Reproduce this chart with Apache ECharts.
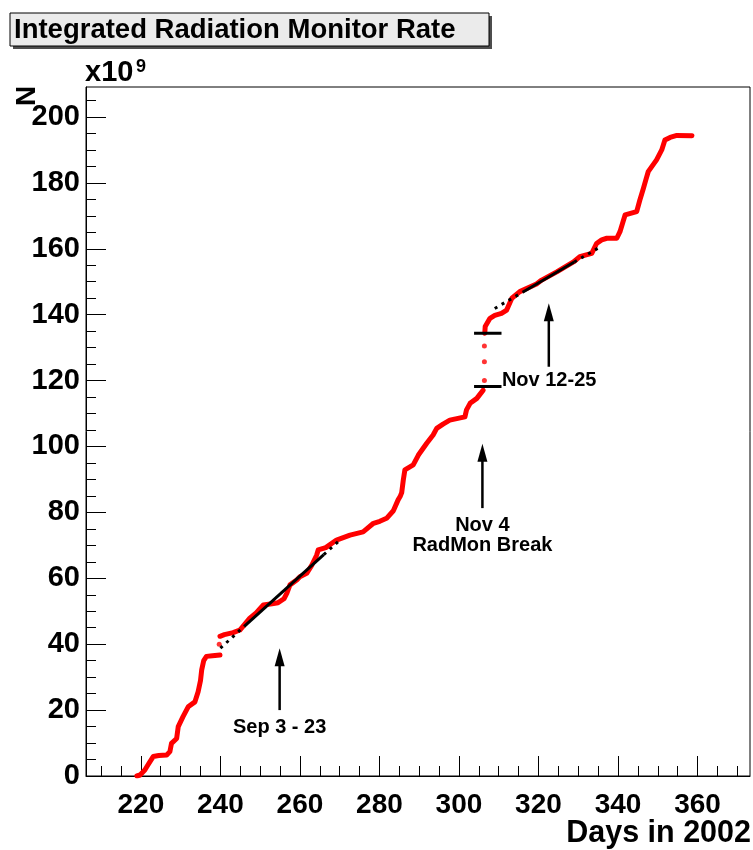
<!DOCTYPE html>
<html><head><meta charset="utf-8">
<script src="https://cdn.jsdelivr.net/npm/echarts@6/dist/echarts.min.js"></script>
<style>html,body{margin:0;padding:0;background:#fff}#c{width:753px;height:850px}</style>
</head><body><div id="c"></div>
<script>
// ---------- data ----------
const xTickLabels = [220, 240, 260, 280, 300, 320, 340, 360];
const xMinorTicks = [210, 215, 225, 230, 235, 245, 250, 255, 265, 270, 275, 285, 290, 295, 305, 310, 315, 325, 330, 335, 345, 350, 355, 365, 370];
const yTickLabels = [0, 20, 40, 60, 80, 100, 120, 140, 160, 180, 200];
const yMinorTicks = [5, 10, 15, 25, 30, 35, 45, 50, 55, 65, 70, 75, 85, 90, 95, 105, 110, 115, 125, 130, 135, 145, 150, 155, 165, 170, 175, 185, 190, 195, 205];

// integrated rate (x10^9), three continuous stretches
const seg1Days = [219.0, 219.8, 221.0, 222.0, 223.1, 224.5, 226.5, 227.3, 227.7, 229.0, 229.4, 230.6, 231.9, 233.6, 234.4, 235.0, 235.3, 235.8, 236.5, 238.0, 239.9];
const seg1Vals = [0.0, 0.3, 1.8, 3.8, 5.9, 6.2, 6.4, 7.4, 9.9, 11.4, 15.0, 18.0, 21.0, 22.5, 25.6, 29.0, 32.2, 35.0, 36.3, 36.5, 36.7];
const seg2Days = [239.9, 241.0, 243.2, 244.9, 247.4, 249.0, 250.8, 253.0, 254.5, 256.0, 256.7, 257.5, 259.2, 260.0, 261.7, 263.0, 264.2, 264.6, 266.5, 269.2, 272.6, 275.9, 278.5, 280.1, 281.8, 283.5, 284.7, 285.2, 285.6, 286.0, 286.4, 288.5, 289.8, 291.9, 293.5, 294.4, 296.0, 297.7, 301.5, 301.9, 302.8, 304.5, 306.1];
const seg2Vals = [42.4, 42.9, 43.5, 44.3, 47.9, 49.5, 51.9, 52.3, 52.6, 53.8, 55.4, 58.0, 59.5, 60.5, 61.5, 64.0, 67.0, 68.6, 69.3, 71.6, 73.1, 74.1, 76.7, 77.3, 78.2, 80.5, 83.8, 84.8, 86.0, 89.8, 92.9, 94.4, 97.4, 101.0, 103.5, 105.5, 106.8, 108.0, 109.0, 111.1, 113.1, 114.6, 117.1];
const seg3Days = [306.5, 306.6, 307.8, 309.0, 310.7, 312.0, 313.3, 315.3, 319.5, 320.8, 324.6, 328.8, 330.4, 333.4, 334.6, 335.9, 337.2, 339.7, 340.5, 341.8, 344.7, 345.5, 346.4, 347.0, 347.6, 349.7, 351.0, 351.8, 353.1, 354.8, 358.6];
const seg3Vals = [134.4, 136.4, 138.9, 139.8, 140.4, 141.4, 145.0, 147.0, 149.3, 150.5, 153.0, 156.0, 157.6, 158.6, 161.6, 162.7, 163.2, 163.2, 165.2, 170.3, 171.3, 174.8, 178.4, 180.9, 183.4, 187.0, 190.0, 193.0, 193.8, 194.4, 194.3];
const isoDays = [239.7, 306.4, 306.4, 306.4];
const isoVals = [40.0, 120.0, 125.7, 130.5];

// linear fits: [dotted start, solid start, solid end, dotted end]
const fit1Days = [240, 246, 266, 270];
const fit1Vals = [38.8, 45.4, 67.2, 71.5];
const fit2Days = [309, 316, 329, 335];
const fit2Vals = [141.9, 146.8, 156.0, 160.2];

// RadMon break level markers
const barFrom = 303.8, barTo = 310.7;
const barLevels = [134.4, 118.2];

// arrows: x, tail y, tip y
const arrowX = [254.9, 305.9, 322.6];
const arrowTail = [20.0, 81.3, 124.2];
const arrowTip = [38.8, 100.8, 143.5];

// annotation texts
const noteText = ['Sep 3 - 23', 'Nov 4', 'RadMon Break', 'Nov 12-25'];
const noteX = [254.9, 305.9, 305.9, 310.8];
const noteY = [14.6, 75.9, 70.1, 120.0];
const noteAlign = ['center', 'center', 'center', 'left'];

// ---------- chart ----------
const FONT = '"Liberation Sans", Arial, Helvetica, sans-serif';
const xMin = 206.2, xMax = 373.2, yMin = 0, yMax = 209.1;
const zip = (a, b) => a.map((v, i) => [v, b[i]]);

const chart = echarts.init(document.getElementById('c'), null, {renderer: 'canvas'});

const redLine = (d, v) => ({
  type: 'line', data: zip(d, v), showSymbol: false, symbol: 'none',
  lineStyle: {color: '#ff0000', width: 5, cap: 'round', join: 'round'},
  z: 2, animation: false, silent: true
});
const fitPart = (d, v, dashed) => ({
  type: 'line', data: zip(d, v), showSymbol: false, symbol: 'none',
  lineStyle: {color: '#000', width: 3, type: dashed ? [3, 5] : 'solid'},
  z: 4, animation: false, silent: true
});

const series = [
  redLine(seg1Days, seg1Vals),
  redLine(seg2Days, seg2Vals),
  redLine(seg3Days, seg3Vals),
  {type: 'scatter', data: zip(isoDays, isoVals), symbolSize: 5,
   itemStyle: {color: '#ff0000'}, z: 2, animation: false, silent: true},
  fitPart(fit1Days.slice(0, 2), fit1Vals.slice(0, 2), true),
  fitPart(fit1Days.slice(1, 3), fit1Vals.slice(1, 3), false),
  fitPart(fit1Days.slice(2, 4), fit1Vals.slice(2, 4), true),
  fitPart(fit2Days.slice(0, 2), fit2Vals.slice(0, 2), true),
  fitPart(fit2Days.slice(1, 3), fit2Vals.slice(1, 3), false),
  fitPart(fit2Days.slice(2, 4), fit2Vals.slice(2, 4), true),
];
barLevels.forEach(l => series.push({
  type: 'line', data: [[barFrom, l], [barTo, l]], showSymbol: false, symbol: 'none',
  lineStyle: {color: '#000', width: 3}, z: 4, animation: false, silent: true
}));
series.push({
  type: 'custom', animation: false, silent: true, z: 5,
  data: arrowX.map((x, i) => [x, arrowTail[i], arrowTip[i]]),
  renderItem: (params, api) => {
    const p0 = api.coord([api.value(0), api.value(1)]);
    const p1 = api.coord([api.value(0), api.value(2)]);
    const hl = 18, hw = 5;
    return {type: 'group', children: [
      {type: 'line', shape: {x1: p0[0], y1: p0[1], x2: p1[0], y2: p1[1] + hl - 2},
       style: {stroke: '#000', lineWidth: 2.5}},
      {type: 'polygon', shape: {points: [[p1[0], p1[1]], [p1[0] - hw, p1[1] + hl], [p1[0] + hw, p1[1] + hl]]},
       style: {fill: '#000'}}
    ]};
  }
});
series.push({
  type: 'custom', animation: false, silent: true, z: 6,
  data: noteText.map((t, i) => [noteX[i], noteY[i], i]),
  renderItem: (params, api) => {
    const i = api.value(2);
    const p = api.coord([api.value(0), api.value(1)]);
    return {type: 'text', x: p[0], y: p[1], style: {text: noteText[i], fontFamily: FONT, fontWeight: 'bold',
      fontSize: 20, fill: '#000', align: noteAlign[i], verticalAlign: 'middle'}};
  }
});

const labelStyle = {fontFamily: FONT, fontWeight: 'bold', color: '#000'};

chart.setOption({
  animation: false,
  backgroundColor: '#fff',
  grid: {left: 86, right: 3, top: 87, bottom: 74, containLabel: false, outerBoundsMode: 'none',
         show: true, borderColor: '#000', borderWidth: 1, backgroundColor: 'transparent'},
  xAxis: [
    {type: 'value', min: xMin, max: xMax, position: 'bottom',
     axisLine: {show: true, onZero: false, lineStyle: {color: '#000', width: 1}},
     axisTick: {show: true, inside: true, length: 20, customValues: xTickLabels, lineStyle: {color: '#000'}},
     axisLabel: Object.assign({show: true, margin: 15, fontSize: 28, customValues: xTickLabels}, labelStyle),
     splitLine: {show: false}},
    {type: 'value', min: xMin, max: xMax, position: 'bottom', gridIndex: 0,
     axisLine: {show: false},
     axisTick: {show: true, inside: true, length: 10, customValues: xMinorTicks, lineStyle: {color: '#000'}},
     axisLabel: {show: false}, splitLine: {show: false}}
  ],
  yAxis: [
    {type: 'value', min: yMin, max: yMax, position: 'left',
     axisLine: {show: true, onZero: false, lineStyle: {color: '#000', width: 1}},
     axisTick: {show: true, inside: true, length: 20, customValues: yTickLabels, lineStyle: {color: '#000'}},
     axisLabel: Object.assign({show: true, margin: 6, fontSize: 29, customValues: yTickLabels}, labelStyle),
     splitLine: {show: false}},
    {type: 'value', min: yMin, max: yMax, position: 'left', gridIndex: 0,
     axisLine: {show: false},
     axisTick: {show: true, inside: true, length: 10, customValues: yMinorTicks, lineStyle: {color: '#000'}},
     axisLabel: {show: false}, splitLine: {show: false}}
  ],
  graphic: [
    {type: 'rect', shape: {x: 13, y: 16, width: 479, height: 33}, style: {fill: '#4d4d4d'}, z: 10},
    {type: 'rect', shape: {x: 10, y: 13, width: 479, height: 33}, style: {fill: '#ebebeb', stroke: '#000', lineWidth: 1}, z: 11},
    {type: 'text', x: 14, y: 30, z: 12, style: {text: 'Integrated Radiation Monitor Rate', fontFamily: FONT,
      fontWeight: 'bold', fontSize: 27.5, fill: '#000', verticalAlign: 'middle', align: 'left'}},
    {type: 'text', x: 85, y: 87, z: 12, style: {text: 'x10', fontFamily: FONT, fontWeight: 'bold', fontSize: 29,
      fill: '#000', verticalAlign: 'bottom', align: 'left'}},
    {type: 'text', x: 136, y: 58, z: 12, style: {text: '9', fontFamily: FONT, fontWeight: 'bold', fontSize: 18,
      fill: '#000', verticalAlign: 'top', align: 'left'}},
    {type: 'text', x: 27, y: 96, rotation: Math.PI / 2, z: 12, style: {text: 'N', fontFamily: FONT, fontWeight: 'bold',
      fontSize: 28, fill: '#000', verticalAlign: 'middle', align: 'center'}},
    {type: 'text', x: 751, y: 849, z: 12, style: {text: 'Days in 2002', fontFamily: FONT, fontWeight: 'bold',
      fontSize: 30.5, fill: '#000', verticalAlign: 'bottom', align: 'right'}}
  ],
  series: series
});
</script>
</body></html>
